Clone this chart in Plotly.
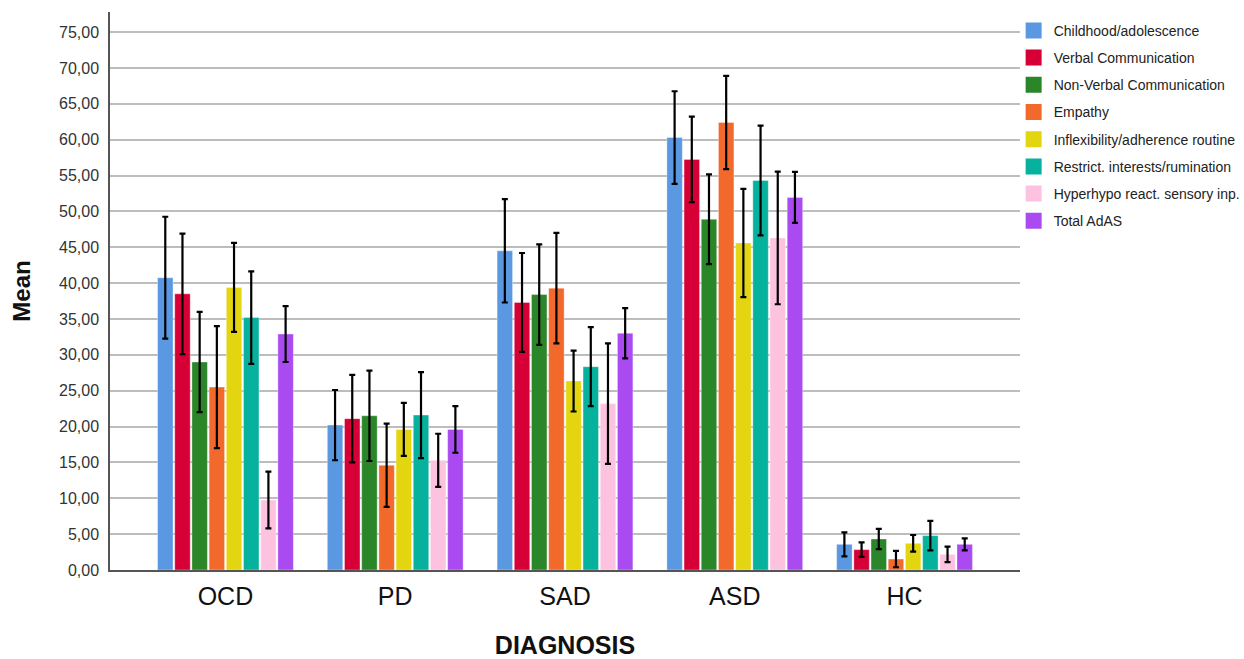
import plotly.graph_objects as go

categories = ["OCD", "PD", "SAD", "ASD", "HC"]
series_names = [
    "Childhood/adolescence",
    "Verbal Communication",
    "Non-Verbal Communication",
    "Empathy",
    "Inflexibility/adherence routine",
    "Restrict. interests/rumination",
    "Hyperhypo react. sensory inp.",
    "Total AdAS",
]
colors = ["#5A98E2", "#D60036", "#2B8529", "#F2692C", "#E3D611", "#06B29D", "#FDC2E0", "#A94BF0"]

childhood = [40.75, 20.2, 44.5, 60.3, 3.58]
verbal = [38.5, 21.1, 37.3, 57.25, 2.84]
nonverbal = [29.0, 21.5, 38.4, 48.9, 4.32]
empathy = [25.5, 14.6, 39.3, 62.4, 1.53]
inflex = [39.4, 19.6, 26.35, 45.6, 3.72]
restrict = [35.2, 21.6, 28.35, 54.3, 4.79]
hyper = [9.76, 15.3, 23.2, 46.3, 2.18]
total = [32.9, 19.6, 33.0, 51.95, 3.58]

err_childhood = [8.5, 4.9, 7.2, 6.45, 1.67]
err_verbal = [8.4, 6.1, 6.9, 5.95, 1.0]
err_nonverbal = [7.0, 6.3, 7.0, 6.25, 1.4]
err_empathy = [8.5, 5.8, 7.7, 6.5, 1.15]
err_inflex = [6.2, 3.7, 4.25, 7.55, 1.16]
err_restrict = [6.45, 6.0, 5.5, 7.65, 2.05]
err_hyper = [3.95, 3.7, 8.4, 9.25, 1.08]
err_total = [3.9, 3.25, 3.5, 3.55, 0.84]

values = [childhood, verbal, nonverbal, empathy, inflex, restrict, hyper, total]
errors = [err_childhood, err_verbal, err_nonverbal, err_empathy, err_inflex, err_restrict, err_hyper, err_total]

fig = go.Figure()
for i, (name, vals, errs) in enumerate(zip(series_names, values, errors)):
    fig.add_trace(go.Bar(
        x=categories, y=vals, name=name,
        marker=dict(color=colors[i], line=dict(color="rgba(255,255,255,0.35)", width=1)),
        error_y=dict(type="data", array=errs, visible=True, color="black", thickness=2.2, width=3),
        legendgroup=f"g{i}", showlegend=False,
    ))
# legend entries with larger square swatches (same groups as the bars)
for i, name in enumerate(series_names):
    fig.add_trace(go.Scatter(
        x=[None], y=[None], mode="markers", name=name,
        marker=dict(symbol="square", size=18, color=colors[i], line=dict(width=0)),
        legendgroup=f"g{i}", showlegend=True, hoverinfo="skip",
    ))

fig.update_layout(
    width=1244, height=659,
    margin=dict(l=110, r=224, t=12, b=89, autoexpand=False),
    paper_bgcolor="white", plot_bgcolor="white",
    barmode="group", bargap=0.19, bargroupgap=0.1,
    separators=",.",
    font=dict(family="Liberation Sans, Arial, sans-serif", color="#222"),
    showlegend=True,
    legend=dict(x=0.993, y=0.995, xanchor="left", yanchor="top",
                font=dict(size=14, color="#222"), tracegroupgap=6,
                itemsizing="trace", bgcolor="rgba(0,0,0,0)", itemwidth=30),
    xaxis=dict(
        range=[-0.68, 4.68], showline=True, linecolor="#555", linewidth=1.5,
        tickfont=dict(size=25, color="#111"), ticks="", ticklabelstandoff=3,
        title=dict(text="<b>DIAGNOSIS</b>", font=dict(size=25, color="#111"), standoff=30),
    ),
    yaxis=dict(
        range=[0, 77.8], tickvals=list(range(0, 80, 5)), tickformat=".2f",
        showline=True, linecolor="#555", linewidth=1.5,
        showgrid=True, gridcolor="#bdbdbd", gridwidth=1.5, zeroline=False,
        tickfont=dict(size=16, color="#333"), ticks="", ticklabelstandoff=6,
        title=dict(text="<b>Mean</b>", font=dict(size=24, color="#111"), standoff=22),
    ),
)

fig.write_html("out.html")
